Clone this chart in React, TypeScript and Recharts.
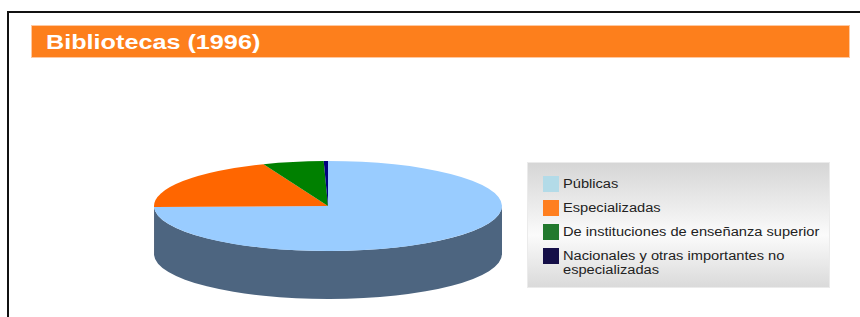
import React from "react"
import { Legend, Pie, PieChart } from "recharts"

const categories = [
  "Públicas",
  "Especializadas",
  "De instituciones de enseñanza superior",
  "Nacionales y otras importantes no especializadas",
]
const libraries = [4760, 1230, 360, 25]

const topColors = ["#99ccff", "#ff6600", "#008000", "#000080"]
const sideColors = ["#4d6580", "#a34200", "#004d00", "#00004d"]
const legendColors = ["#b3dbe8", "#ff7f1f", "#22792e", "#150f48"]

const data = categories.map((name, i) => ({ name, value: libraries[i] }))

// 3D look: squash the circle into an ellipse and add a wall below the front edge
const TILT = 0.259
const DEPTH = 48
const RAD = Math.PI / 180

function Slice3D(props: any) {
  const { cx, cy, outerRadius, startAngle, endAngle, index } = props
  const rx = outerRadius
  const ry = outerRadius * TILT
  const s = Math.min(startAngle, endAngle)
  const e = Math.max(startAngle, endAngle)
  const pt = (a: number, dy = 0) =>
    `${cx + rx * Math.cos(a * RAD)},${cy - ry * Math.sin(a * RAD) + dy}`

  // front half of the ellipse is 180..360 degrees
  const walls: number[][] = []
  for (let k = -2; k <= 1; k++) {
    const lo = Math.max(s, 180 + 360 * k)
    const hi = Math.min(e, 360 + 360 * k)
    if (hi - lo > 0.01) walls.push([lo, hi])
  }

  const top =
    e - s >= 359.99
      ? `M${pt(0)} A${rx},${ry} 0 1 1 ${pt(180)} A${rx},${ry} 0 1 1 ${pt(0)} Z`
      : `M${cx},${cy} L${pt(e)} A${rx},${ry} 0 ${e - s > 180 ? 1 : 0} 1 ${pt(s)} Z`

  return (
    <g>
      {walls.map(([lo, hi], j) => (
        <path
          key={j}
          d={`M${pt(lo)} A${rx},${ry} 0 0 0 ${pt(hi)} L${pt(hi, DEPTH)} A${rx},${ry} 0 0 1 ${pt(lo, DEPTH)} Z`}
          fill={sideColors[index]}
        />
      ))}
      <path d={top} fill={topColors[index]} />
    </g>
  )
}

const textFont = "'Liberation Sans', Arial, sans-serif"

function LegendBox({ payload }: any) {
  // keep the legend in data order
  const names: string[] =
    payload && payload.length
      ? payload
          .map((p: any) => p.value)
          .sort((a: string, b: string) => categories.indexOf(a) - categories.indexOf(b))
      : categories
  return (
    <div
      style={{
        width: 303,
        height: 126,
        boxSizing: "border-box",
        border: "1px solid #ebebeb",
        background: "linear-gradient(180deg, #d6d6d6 0%, #f2f2f2 45%, #fbfbfb 58%, #dadada 100%)",
        paddingTop: 13,
        fontFamily: textFont,
        fontSize: 12,
        color: "#222",
      }}
    >
      {names.map((name, i) => (
        <div key={name} style={{ display: "flex", alignItems: "flex-start", height: 24, paddingLeft: 15 }}>
          <div
            style={{
              width: 16,
              height: 16,
              background: legendColors[categories.indexOf(name)],
              flex: "none",
            }}
          />
          <div
            style={{
              width: 222,
              marginLeft: 4,
              marginTop: 1,
              lineHeight: "14px",
              transform: "scaleX(1.22)",
              transformOrigin: "left top",
            }}
          >
            {name}
          </div>
        </div>
      ))}
    </div>
  )
}

export default function App() {
  return (
    <div
      style={{
        position: "absolute",
        left: 0,
        top: 0,
        width: 860,
        height: 317,
        background: "#fff",
        overflow: "hidden",
      }}
    >
      <div
        style={{
          position: "absolute",
          left: 7,
          top: 11,
          width: 900,
          height: 400,
          border: "2px solid #111",
          boxSizing: "border-box",
        }}
      />
      <div style={{ position: "absolute", left: 0, top: 0 }}>
        <PieChart width={860} height={317} margin={{ top: 0, right: 0, bottom: 0, left: 0 }}>
          <Pie
            data={data}
            dataKey="value"
            nameKey="name"
            cx={328}
            cy={206}
            outerRadius={174}
            startAngle={90}
            endAngle={-270}
            fill="none"
            stroke="none"
            label={Slice3D}
            labelLine={false}
            isAnimationActive={false}
          />
          <Legend
            layout="vertical"
            align="right"
            verticalAlign="top"
            content={LegendBox}
            wrapperStyle={{ left: 527, top: 162, width: 303, height: 126 }}
          />
        </PieChart>
      </div>
      <div
        style={{
          position: "absolute",
          left: 32,
          top: 26,
          width: 817,
          height: 31,
          background: "#fd7f1c",
          boxShadow: "0 0 0 1px #ffc8a0",
          fontFamily: textFont,
          fontWeight: "bold",
          fontSize: 21,
          lineHeight: "31px",
          color: "#fff",
          whiteSpace: "nowrap",
        }}
      >
        <span
          style={{
            display: "inline-block",
            marginLeft: 14,
            transform: "scaleX(1.2)",
            transformOrigin: "left center",
          }}
        >
          Bibliotecas (1996)
        </span>
      </div>
    </div>
  )
}
